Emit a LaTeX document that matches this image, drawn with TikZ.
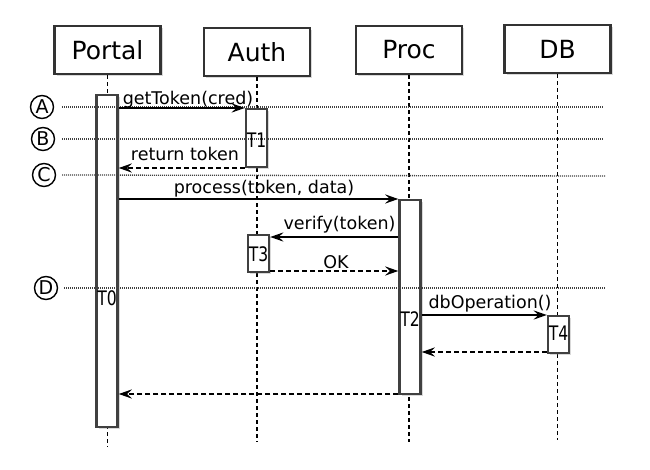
\documentclass[tikz,border=0pt]{standalone}
\usepackage{fontspec}
\setmainfont{DejaVu Sans}
\usetikzlibrary{arrows.meta,shadows}
\begin{document}
\begin{tikzpicture}[x=1pt,y=-1pt,
  shad/.style={drop shadow={opacity=0.3,shadow xshift=2pt,shadow yshift=-2pt}},
  head/.style={draw=black!80,line width=2.5pt,fill=white,minimum width=106,minimum height=48,inner sep=0,font=\fontsize{25}{25}\selectfont,shad},
  actbar/.style={draw=black!75,line width=2.4pt,fill=white,minimum width=21,anchor=north,inner sep=0,shad},
  life/.style={line width=1.3pt,dash pattern=on 3.5pt off 3.5pt},
  guide/.style={black!75,line width=1.3pt,dash pattern=on 1pt off 1pt},
  msg/.style={line width=2pt,-{Stealth[length=13pt,width=9pt,inset=4.5pt]}},
  ret/.style={msg,dash pattern=on 5pt off 3pt},
  lab/.style={font=\fontsize{17.5}{17.5}\selectfont,anchor=base,inner sep=0},
  tlab/.style={font=\fontsize{20}{20}\selectfont,inner sep=0},
  circmark/.style={circle,draw,line width=1.4pt,minimum size=23,inner sep=0,font=\fontsize{19}{19}\selectfont}
]
\useasboundingbox (0,0) rectangle (650,470);

% participants
\node[head] (portal) at (107.5,50) {Portal};
\node[head] (auth)   at (257,52)   {Auth};
\node[head] (proc)   at (409,50)   {Proc};
\node[head] (db)     at (557.5,49) {DB};

% lifelines
\coordinate (pe) at (107,447);
\coordinate (ae) at (257,442);
\coordinate (re) at (410,442);
\coordinate (de) at (557,440);
\draw[life] (portal.south) -- (portal.south |- pe);
\draw[life] (auth.south) -- (auth.south |- ae);
\draw[life] (proc.south) -- (proc.south |- re);
\draw[life] (db.south) -- (db.south |- de);

% activation bars
\node[actbar,minimum height=332] (T0) at (107,94) {};
\node[actbar,minimum height=58]  (T1) at (256.5,108) {};
\node[actbar,minimum height=194] (T2) at (410,199) {};
\node[actbar,minimum height=37]  (T3) at (258.5,234) {};
\node[actbar,minimum height=37]  (T4) at (558.5,315) {};

% guide lines
\node[circmark] (mA) at (42,107) {A};
\node[circmark] (mB) at (43,139) {B};
\node[circmark] (mC) at (44,175) {C};
\node[circmark] (mD) at (46,288) {D};
\coordinate (gA) at (603,107);
\coordinate (gB) at (603,139);
\coordinate (gC) at (605,176);
\coordinate (gD) at (606,288);
\draw[guide] (mA.east) ++(8,0) -- (gA);
\draw[guide] (mB.east) ++(7,0) -- (gB);
\draw[guide] (mC.east) ++(6,0) -- (gC);
\draw[guide] (mD.east) ++(6,0) -- (gD);

% activation labels
\node[tlab] (l0) at (107,298) {\scalebox{0.78}[1]{T0}};
\node[tlab] (l1) at (256.5,140) {\scalebox{0.78}[1]{T1}};
\node[tlab] (l2) at (410,319) {\scalebox{0.78}[1]{T2}};
\node[tlab] (l3) at (258.5,254) {\scalebox{0.78}[1]{T3}};
\node[tlab] (l4) at (558.5,333) {\scalebox{0.78}[1]{T4}};

% messages
\coordinate (y1) at (0,108);
\coordinate (y2) at (0,168);
\coordinate (y3) at (0,199);
\coordinate (y4) at (0,237);
\coordinate (y5) at (0,271);
\coordinate (y6) at (0,315);
\coordinate (y7) at (0,352);
\coordinate (y8) at (0,394);
\draw[msg] (T0.east |- y1) -- (T1.west |- y1);
\draw[ret] (T1.west |- y2) -- (T0.east |- y2);
\draw[msg] (T0.east |- y3) -- (T2.west |- y3);
\draw[msg] (T2.west |- y4) -- (T3.east |- y4);
\draw[ret] (T3.east |- y5) -- (T2.west |- y5);
\draw[msg] (T2.east |- y6) -- (T4.west |- y6);
\draw[ret] (T4.west |- y7) -- (T2.east |- y7);
\draw[ret] (T2.west |- y8) -- (T0.east |- y8);

% message labels
\node[lab] (m1) at (188,105) {getToken(cred)};
\node[lab] (m2) at (185,161) {return token};
\node[lab] (m3) at (264,194) {process(token, data)};
\node[lab] (m4) at (339.5,230) {verify(token)};
\node[lab] (m5) at (336,269) {OK};
\node[lab] (m6) at (490,308) {dbOperation()};
\end{tikzpicture}
\end{document}
